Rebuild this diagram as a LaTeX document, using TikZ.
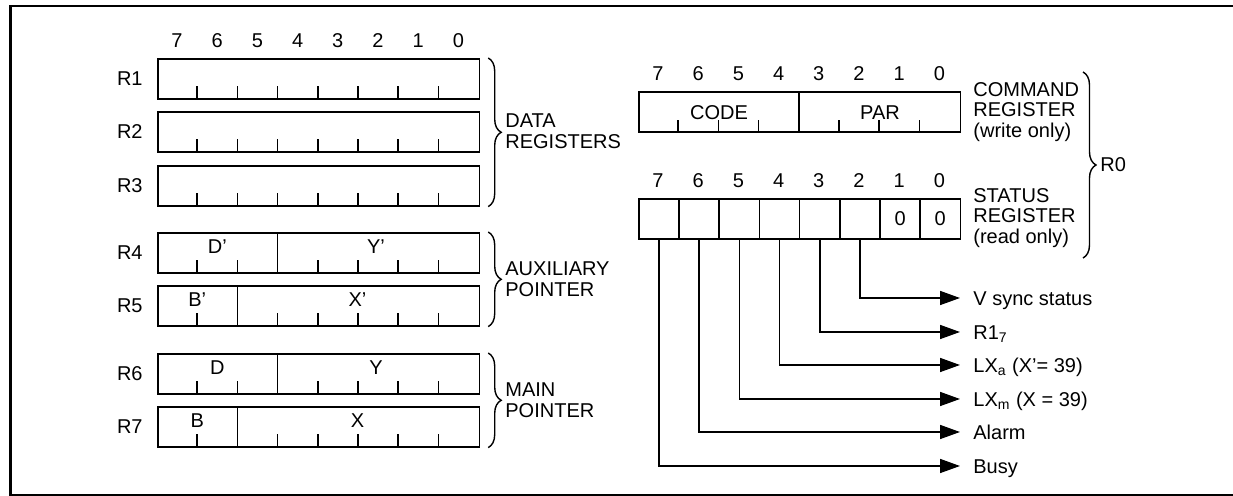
\documentclass[tikz,border=0pt]{standalone}
\usepackage{fontspec}
\setmainfont{Liberation Sans}
\usetikzlibrary{arrows.meta, positioning, calc, decorations.pathreplacing}

\begin{document}
\begin{tikzpicture}[x=0.5pt, y=-0.5pt,
  font=\fontsize{10}{10.4}\selectfont,
  reg/.style={rectangle, draw, line width=0.8pt, anchor=north west,
              inner sep=0pt, minimum width=160.8pt, minimum height=20pt},
  cell/.style={rectangle, draw, line width=0.8pt, anchor=north west,
               inner sep=0pt, minimum width=20.1pt, minimum height=20pt},
  tick/.style={line width=0.8pt},
  bitnum/.style={inner sep=0pt, text height=7.2pt, text depth=0pt},
  rname/.style={inner sep=0pt, text height=7.2pt, text depth=0pt},
  field/.style={inner sep=0pt, text height=7.2pt, text depth=0pt},
  grp/.style={align=left, anchor=west, inner sep=0pt},
  brc/.style={decorate, decoration={brace, amplitude=6.5pt}, line width=0.7pt},
  sig/.style={anchor=west, inner sep=0pt, text height=7.2pt, text depth=0pt},
  sigarrow/.style={-{Triangle[length=10pt, width=7pt]}, line width=0.8pt,
                   shorten >=6.5pt},
  frame/.style={line width=1.3pt}
]
\useasboundingbox (0,0) rectangle (1233,496);
% frame
\draw[frame] (10.5,6) rectangle (1260,495);
% bit numbers
\foreach \b [count=\k from 0] in {7,...,0} {
  \node[bitnum] (lb\b) at ({177+40.2*\k},40) {\b};
  \node[bitnum] (cb\b) at ({658+40.2*\k},73) {\b};
  \node[bitnum] (sb\b) at ({658+40.2*\k},180) {\b};
}
% data registers
\node[reg] (r1) at (157,58)  {};
\node[reg] (r2) at (157,111) {};
\node[reg] (r3) at (157,165) {};
\foreach \r in {r1,r2,r3}
  \foreach \i in {1,...,7}
    \draw[tick] ($(\r.south west)+(40.2*\i,0)$) -- ++(0,-14);
% pointers
\node[reg] (r4) at (157,232) {};
\node[reg] (r5) at (157,285) {};
\node[reg] (r6) at (157,353) {};
\node[reg] (r7) at (157,406) {};
\foreach \r in {r4,r6} {
  \foreach \i in {1,2,4,5,6,7}
    \draw[tick] ($(\r.south west)+(40.2*\i,0)$) -- ++(0,-14);
  \draw[tick] ($(\r.south west)+(120.6,0)$) -- ($(\r.north west)+(120.6,0)$);
}
\foreach \r in {r5,r7} {
  \foreach \i in {1,3,4,5,6,7}
    \draw[tick] ($(\r.south west)+(40.2*\i,0)$) -- ++(0,-14);
  \draw[tick] ($(\r.south west)+(80.4,0)$) -- ($(\r.north west)+(80.4,0)$);
}
\node[field] (fd1) at ($(r4.north west)+(60.3,14)$)  {D'};
\node[field] (fy1) at ($(r4.north west)+(219,14)$)   {Y'};
\node[field] (fb1) at ($(r5.north west)+(40.2,14)$)  {B'};
\node[field] (fx1) at ($(r5.north west)+(200.5,14)$) {X'};
\node[field] (fd2) at ($(r6.north west)+(60.3,14)$)  {D};
\node[field] (fy2) at ($(r6.north west)+(219,14)$)   {Y};
\node[field] (fb2) at ($(r7.north west)+(40.2,14)$)  {B};
\node[field] (fx2) at ($(r7.north west)+(200.5,14)$) {X};
% register names
\node[rname, left=7pt of r1] (n1) {R1};
\node[rname, left=7pt of r2] (n2) {R2};
\node[rname, left=7pt of r3] (n3) {R3};
\node[rname, left=7pt of r4] (n4) {R4};
\node[rname, left=7pt of r5] (n5) {R5};
\node[rname, left=7pt of r6] (n6) {R6};
\node[rname, left=7pt of r7] (n7) {R7};
% groups
\draw[brc] ($(r1.north east)+(8,0)$) -- ($(r3.south east)+(8,0)$);
\node[grp] (gdata) at (505,131) {DATA\\REGISTERS};
\draw[brc] ($(r4.north east)+(8,0)$) -- ($(r5.south east)+(8,0)$);
\node[grp] (gaux) at (505,279) {AUXILIARY\\POINTER};
\draw[brc] ($(r6.north east)+(8,0)$) -- ($(r7.south east)+(8,0)$);
\node[grp] (gmain) at (505,400) {MAIN\\POINTER};
% command register
\node[reg] (cmd) at (638,91) {};
\foreach \i in {1,2,3,5,6,7}
  \draw[tick] ($(cmd.south west)+(40.2*\i,0)$) -- ++(0,-13);
\draw[tick] ($(cmd.south west)+(160.8,0)$) -- ($(cmd.north west)+(160.8,0)$);
\node[field] (fcode) at (719,112) {CODE};
\node[field] (fpar) at (880,112) {PAR};
\node[grp] (gcmd) at (973,112) {COMMAND\\REGISTER\\(write only)};
% status register
\node[cell] (s7) at (638,198)   {};
\node[cell] (s6) at (678.2,198) {};
\node[cell] (s5) at (718.4,198) {};
\node[cell] (s4) at (758.6,198) {};
\node[cell] (s3) at (798.8,198) {};
\node[cell] (s2) at (839,198)   {};
\node[cell] (s1) at (879.2,198) {0};
\node[cell] (s0) at (919.4,198) {0};
\node[grp] (gst) at (973,218) {STATUS\\REGISTER\\(read only)};
% R0
\draw[brc] (1083,72) -- (1083,258);
\node[grp] (gr0) at (1100,165) {R0};
% status bits
\node[sig] (vsync) at (973,298) {V sync status};
\node[sig] (r17)   at (973,332) {R1\textsubscript{7}};
\node[sig] (lxa)   at (973,365) {LX\textsubscript{a} (X'= 39)};
\node[sig] (lxm)   at (973,399) {LX\textsubscript{m} (X = 39)};
\node[sig] (alarm) at (973,432) {Alarm};
\node[sig] (busy)  at (973,466) {Busy};
\draw[sigarrow] (s2.south) |- (vsync);
\draw[sigarrow] (s3.south) |- (r17);
\draw[sigarrow] (s4.south) |- (lxa);
\draw[sigarrow] (s5.south) |- (lxm);
\draw[sigarrow] (s6.south) |- (alarm);
\draw[sigarrow] (s7.south) |- (busy);
\end{tikzpicture}
\end{document}
